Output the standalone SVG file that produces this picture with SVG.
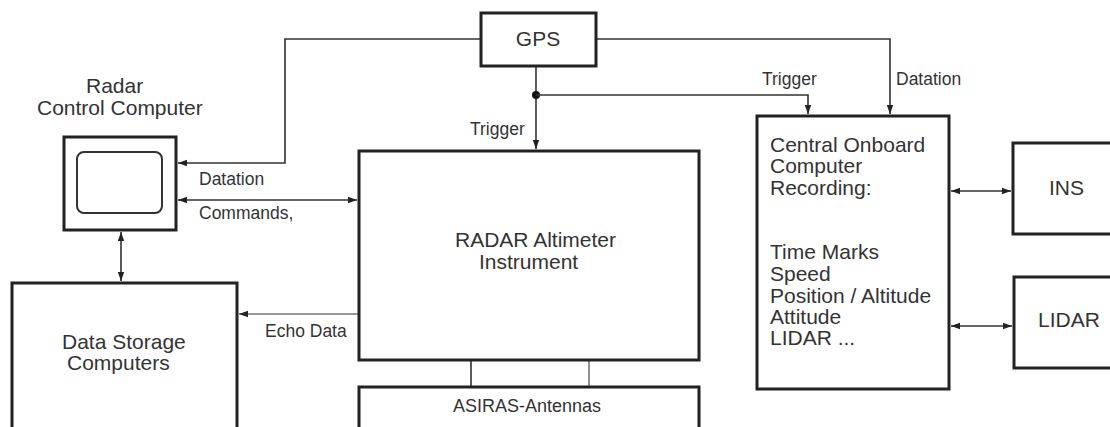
<svg xmlns="http://www.w3.org/2000/svg" width="1110" height="427" viewBox="0 0 1110 427">
<style>
.box{fill:#fff;stroke:#222;stroke-width:3}
.in{fill:none;stroke:#333;stroke-width:2}
.ln{fill:none;stroke:#333;stroke-width:1.6}
.gr{stroke:#777}
text{font-family:"Liberation Sans",Arial,sans-serif;fill:#333}
.big{font-size:21px}
.sm{font-size:17.5px}
</style>
<defs>
<marker id="ah" markerWidth="10" markerHeight="8" refX="9" refY="4" orient="auto-start-reverse" markerUnits="userSpaceOnUse">
<path d="M0,0.8 L9,4 L0,7.2 z" fill="#222"/>
</marker>
</defs>
<rect width="1110" height="427" fill="#fff"/>
<g id="connectors">
<path class="ln" d="M481,39 H285 V163 H178" marker-end="url(#ah)"/>
<path class="ln" d="M536,67 V149" marker-end="url(#ah)"/>
<circle cx="536" cy="95" r="4" fill="#111"/>
<path class="ln" d="M536,95 H808 V114" marker-end="url(#ah)"/>
<path class="ln" d="M596,39 H890 V114" marker-end="url(#ah)"/>
<path class="ln" d="M178,200 H357" marker-start="url(#ah)" marker-end="url(#ah)"/>
<path class="ln" d="M121,232 V281" marker-start="url(#ah)" marker-end="url(#ah)"/>
<path class="ln gr" d="M359,314 H239" marker-end="url(#ah)"/>
<path class="ln" d="M951,191 H1011" marker-start="url(#ah)" marker-end="url(#ah)"/>
<path class="ln" d="M951,326 H1012" marker-start="url(#ah)" marker-end="url(#ah)"/>
<path class="ln" d="M471,360 V387"/>
<path class="ln gr" d="M589,360 V387"/>
<text class="sm" x="470" y="135">Trigger</text>
<text class="sm" x="762" y="85">Trigger</text>
<text class="sm" x="896" y="85">Datation</text>
<text class="sm" x="199" y="185">Datation</text>
<text class="sm" x="199" y="219">Commands,</text>
<text class="sm" x="265" y="337">Echo Data</text>
</g>
<g id="gps">
<rect class="box" x="481" y="13" width="115" height="53"/>
<text class="big" x="538" y="46" text-anchor="middle">GPS</text>
</g>
<g id="radar-control">
<text class="big" x="86" y="93">Radar</text>
<text class="big" x="37" y="115">Control Computer</text>
<rect class="box" x="64" y="137" width="112" height="93"/>
<rect class="in" x="77" y="152" width="85" height="61" rx="7"/>
</g>
<g id="radar-altimeter">
<rect class="box" x="359" y="151" width="340" height="209"/>
<text class="big" x="455" y="247">RADAR Altimeter</text>
<text class="big" x="479" y="269">Instrument</text>
</g>
<g id="antennas">
<rect class="box" x="359" y="387" width="340" height="60"/>
<text x="453" y="412" style="font-size:18px">ASIRAS-Antennas</text>
</g>
<g id="data-storage">
<rect class="box" x="12" y="283" width="225" height="160"/>
<text class="big" x="62" y="349">Data Storage</text>
<text class="big" x="67" y="370">Computers</text>
</g>
<g id="central">
<rect class="box" x="757" y="116" width="192" height="273"/>
<text class="big" x="770" y="152">Central Onboard</text>
<text class="big" x="770" y="173">Computer</text>
<text class="big" x="770" y="195">Recording:</text>
<text class="big" x="770" y="259">Time Marks</text>
<text class="big" x="770" y="281">Speed</text>
<text class="big" x="770" y="303">Position / Altitude</text>
<text class="big" x="770" y="324">Attitude</text>
<text class="big" x="770" y="345">LIDAR ...</text>
</g>
<g id="ins">
<rect class="box" x="1013" y="143" width="120" height="91"/>
<text class="big" x="1049" y="195">INS</text>
</g>
<g id="lidar">
<rect class="box" x="1014" y="277" width="120" height="91"/>
<text class="big" x="1038" y="327">LIDAR</text>
</g>
</svg>
